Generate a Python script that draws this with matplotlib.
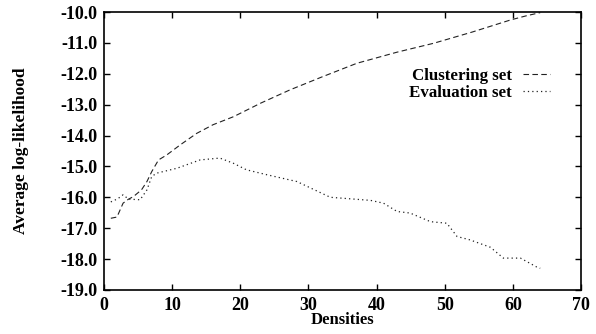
import matplotlib
matplotlib.use("Agg")
import matplotlib.pyplot as plt

clust_x = [1.0, 1.9, 2.8, 3.6, 4.3, 5.5, 6.3, 7.0, 8.0, 9.2, 11.2, 13.6, 16.0, 19.0, 23.0, 27.3, 32.0, 37.1, 43.0, 48.4, 54.0, 59.6, 62.0, 64.0]
clust_y = [-16.68, -16.64, -16.19, -16.06, -15.98, -15.76, -15.49, -15.17, -14.79, -14.63, -14.30, -13.93, -13.65, -13.39, -12.95, -12.52, -12.10, -11.66, -11.30, -11.01, -10.65, -10.26, -10.12, -10.02]

eval_x = [1.0, 2.0, 2.8, 3.6, 5.3, 6.3, 7.0, 7.7, 10.7, 14.1, 17.0, 19.0, 20.9, 23.9, 28.3, 33.2, 39.1, 41.0, 43.0, 44.9, 47.9, 50.3, 51.8, 53.7, 56.7, 58.6, 61.1, 63.5, 64.0]
eval_y = [-16.15, -16.05, -15.92, -16.06, -16.08, -15.76, -15.33, -15.22, -15.06, -14.79, -14.73, -14.90, -15.11, -15.27, -15.49, -16.00, -16.10, -16.19, -16.46, -16.51, -16.79, -16.84, -17.27, -17.38, -17.62, -17.97, -17.97, -18.26, -18.30]

xticks = [0, 10, 20, 30, 40, 50, 60, 70]
yticks = [-19.0, -18.0, -17.0, -16.0, -15.0, -14.0, -13.0, -12.0, -11.0, -10.0]

plt.rcParams['font.family'] = ['Liberation Serif', 'DejaVu Serif']
plt.rcParams['font.weight'] = 'bold'

fig = plt.figure(figsize=(5.96, 3.34), dpi=100)
ax = fig.add_axes([0.1745, 0.132, 0.8005, 0.832])

ax.plot(clust_x, clust_y, color='#222222', lw=0.8, dashes=(5, 3), label='Clustering set')
ax.plot(eval_x, eval_y, color='#222222', lw=0.9, dashes=(1, 2.5), label='Evaluation set')

ax.set_xlim(0, 70)
ax.set_ylim(-19, -10)
ax.set_xticks(xticks)
ax.set_yticks(yticks)
ax.set_xticklabels([str(t) for t in xticks])
ax.set_yticklabels([f"{t:.1f}" for t in yticks])
ax.tick_params(direction='in', top=True, right=True, length=4, width=1, labelsize=13, pad=5)
for lab in ax.get_xticklabels() + ax.get_yticklabels():
    lab.set_fontweight('bold')
for s in ax.spines.values():
    s.set_linewidth(1.2)

ax.set_xlabel('Densities', fontsize=12, fontweight='bold', labelpad=-1)
ax.set_ylabel('Average log-likelihood', fontsize=12.5, fontweight='bold', labelpad=22)

leg = ax.legend(loc='upper right', bbox_to_anchor=(0.949, 0.843), bbox_transform=fig.transFigure,
                frameon=False, markerfirst=False, handlelength=1.6, handletextpad=0.65,
                labelspacing=0.1, prop={'family': 'Liberation Serif', 'weight': 'bold', 'size': 12.2})
for t in leg.get_texts():
    t.set_ha('right')

fig.savefig('out.png', dpi=100)
